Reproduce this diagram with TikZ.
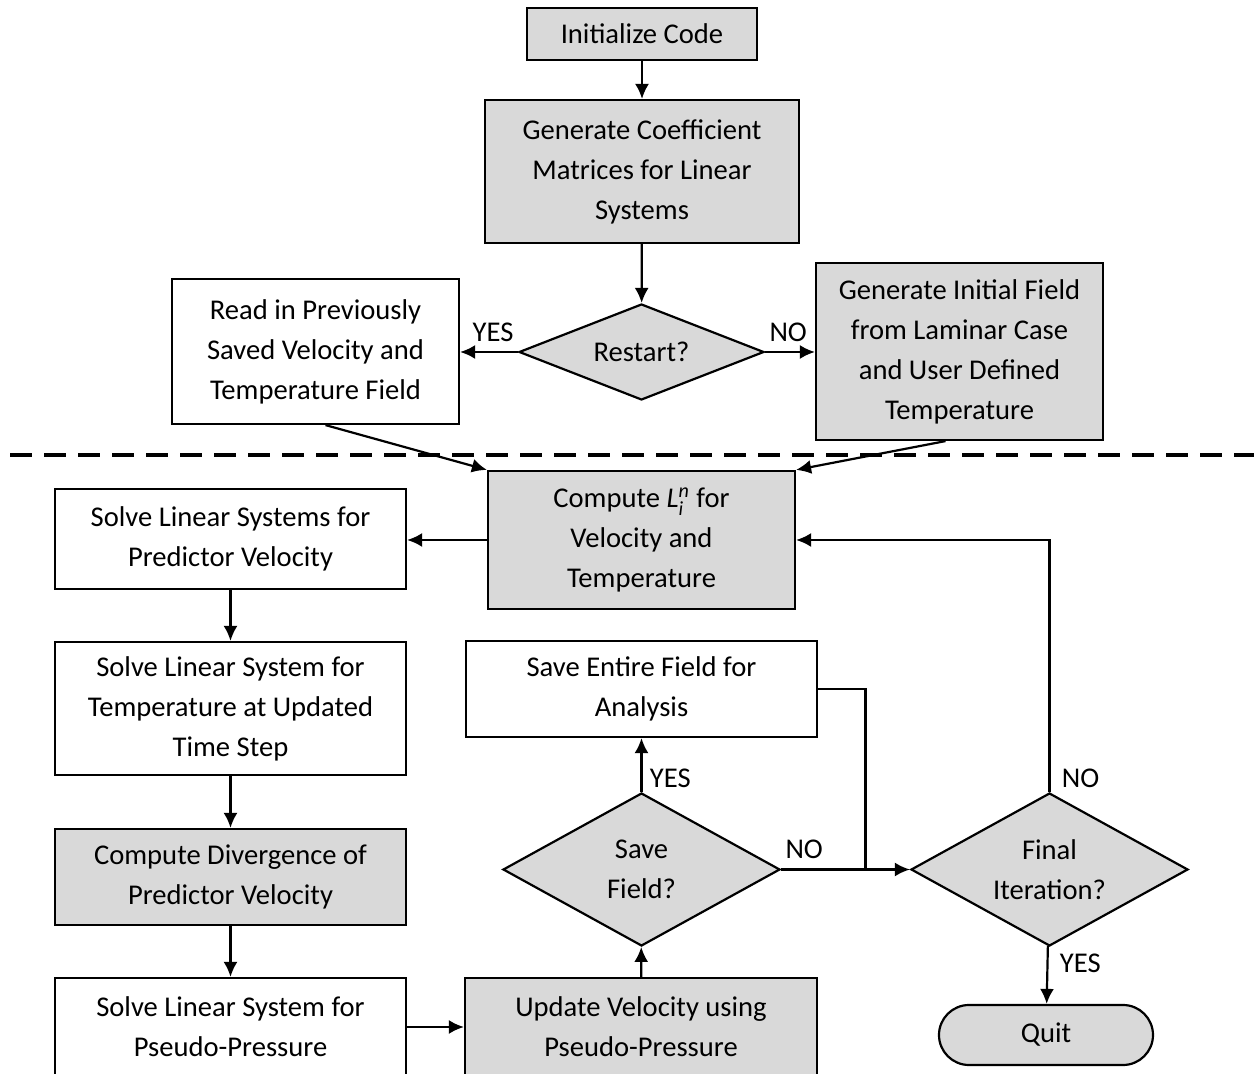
\documentclass[tikz,border=0pt]{standalone}
\usepackage{amsmath}
\usepackage{fontspec}
\setmainfont{Carlito}
\usetikzlibrary{shapes.geometric,arrows.meta,positioning,calc}
\definecolor{boxgray}{RGB}{217,217,217}
\tikzset{
  proc/.style={ % plain process box
    draw, line width=1.1pt, rectangle, fill=white,
    align=center, inner sep=0pt, text=black,
    minimum width=175.5pt,
    font=\fontsize{14.3}{20}\selectfont
  },
  gproc/.style={ % shaded process box
    proc, fill=boxgray
  },
  decide/.style={ % decision diamond
    draw, line width=1.1pt, diamond, fill=boxgray,
    align=center, inner sep=0pt, text=black,
    font=\fontsize{14.3}{20}\selectfont
  },
  stopbox/.style={ % terminal, rounded ends
    draw, line width=1.1pt, rectangle, rounded corners=15pt, fill=boxgray,
    minimum width=107pt, minimum height=30pt,
    font=\fontsize{14.3}{20}\selectfont
  },
  lbl/.style={ % YES / NO labels
    inner sep=2pt, font=\fontsize{14.3}{20}\selectfont
  },
  arrow/.style={line width=1.1pt, -{Latex[length=7.5pt,width=7pt]}},
  line/.style={line width=1.1pt}
}

\begin{document}
\begin{tikzpicture}[x=0.5pt, y=-0.5pt]
    \useasboundingbox (0,0) rectangle (1254,1074);

    % above the dashed line
    \node[gproc, minimum width=115pt, minimum height=26pt] (init) at (642,34) {Initialize Code};
    \node[gproc, minimum width=157pt, minimum height=71.5pt] (gencoef) at (642,171.5)
      {Generate Coefficient\\Matrices for Linear\\Systems};
    \node[decide, minimum width=122.5pt, minimum height=48pt, aspect=2.55] (restart) at (641.5,352) {Restart?};
    \node[proc, minimum width=143.5pt, minimum height=72.5pt] (readin) at (315.5,351.5)
      {Read in Previously\\Saved Velocity and\\Temperature Field};
    \node[gproc, minimum width=143.5pt, minimum height=88.5pt] (geninit) at (959.5,351.5)
      {Generate Initial Field\\from Laminar Case\\and User Defined\\Temperature};

    \draw[line width=2pt, dash pattern=on 11pt off 6pt] (10,455) -- (1254,455);

    % time loop
    \node[gproc, minimum width=153.5pt, minimum height=69pt] (computeL) at (641.5,540)
      {Compute $\textit{L}_{\textit{i}}^{\textit{n}}$ for\\Velocity and\\Temperature};
    \node[proc, minimum height=50pt] (predictor) at (230.5,539) {Solve Linear Systems for\\Predictor Velocity};
    \node[proc, minimum height=66.5pt] (temp) at (230.5,708.5)
      {Solve Linear System for\\Temperature at Updated\\Time Step};
    \node[gproc, minimum height=48pt] (diverg) at (230.5,877) {Compute Divergence of\\Predictor Velocity};
    \node[proc, minimum height=49pt] (pseudo) at (230.5,1027) {Solve Linear System for\\Pseudo-Pressure};
    \node[gproc, minimum width=176pt, minimum height=49pt] (update) at (641,1027)
      {Update Velocity using\\Pseudo-Pressure};
    \node[decide, minimum width=138.5pt, minimum height=76.5pt, aspect=1.81] (savefield) at (641.5,869.5) {Save\\Field?};
    \node[proc, minimum height=48pt] (saveall) at (641.5,689) {Save Entire Field for\\Analysis};
    \node[decide, minimum width=138.5pt, minimum height=76.5pt, aspect=1.81] (final) at (1049.5,869.5) {Final\\Iteration?};
    \node[stopbox] (quit) at (1046,1035) {Quit};

    \draw[arrow] (init) -- (gencoef);
    \draw[arrow] (gencoef) -- (restart);
    \draw[arrow] (restart.west) -- (restart.west -| readin.east);
    \node[lbl, anchor=south east, yshift=3pt] (yes1) at (restart.west) {YES};
    \draw[arrow] (restart.east) -- (restart.east -| geninit.west);
    \node[lbl, anchor=south west, yshift=3pt] (no1) at (restart.east) {NO};
    \draw[arrow] ([xshift=5pt]readin.south) -- (computeL.north west);
    \draw[arrow] ([xshift=-7pt]geninit.south) -- (computeL.north east);

    \draw[arrow] (computeL.west) -- (computeL.west -| predictor.east);
    \draw[arrow] (predictor) -- (temp);
    \draw[arrow] (temp) -- (diverg);
    \draw[arrow] (diverg) -- (pseudo);
    \draw[arrow] (pseudo) -- (update);
    \draw[arrow] (update) -- (savefield);
    \draw[arrow] (savefield) -- (saveall);
    \node[lbl, anchor=south west, xshift=2pt] (yes2) at (savefield.north) {YES};
    \draw[arrow] (savefield.east) -- (final.west);
    \node[lbl, anchor=south west, yshift=3pt] (no2) at (savefield.east) {NO};
    \coordinate (merge) at ($(savefield.east)!0.655!(final.west)$);
    \draw[line] (saveall.east) -| (merge);
    \draw[arrow] (final.north) |- (computeL.east);
    \node[lbl, anchor=south west, xshift=4pt] (no3) at (final.north) {NO};
    \draw[arrow] (final) -- (quit);
    \node[lbl, anchor=north west, xshift=3pt, yshift=-1pt] (yes3) at (final.south) {YES};
\end{tikzpicture}
\end{document}
